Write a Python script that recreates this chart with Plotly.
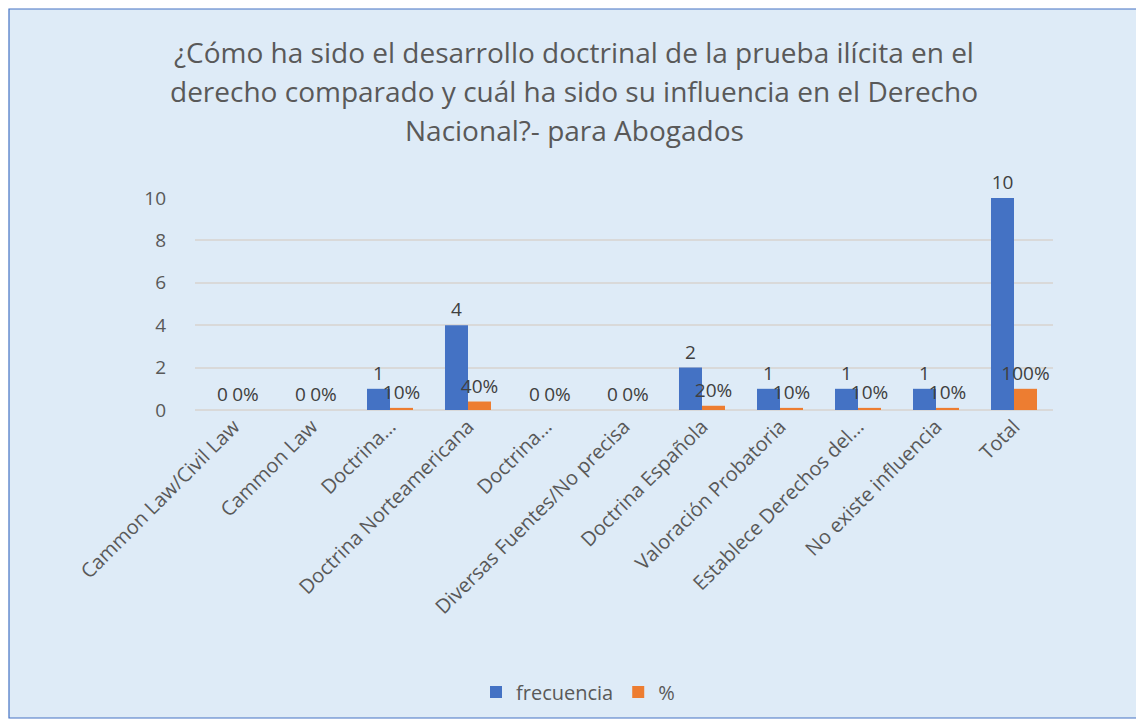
import plotly.graph_objects as go

categories = ["Cammon Law/Civil Law", "Cammon Law", "Doctrina…", "Doctrina Norteamericana",
              "Doctrina…", "Diversas Fuentes/No precisa", "Doctrina Española",
              "Valoración Probatoria", "Establece Derechos del…", "No existe influencia", "Total"]
frecuencia = [0, 0, 1, 4, 0, 0, 2, 1, 1, 1, 10]
porcentaje = [0.0, 0.0, 0.1, 0.4, 0.0, 0.0, 0.2, 0.1, 0.1, 0.1, 1.0]
title_lines = ["¿Cómo ha sido el desarrollo doctrinal de la prueba ilícita en el",
               "derecho comparado y cuál ha sido su influencia en el Derecho",
               "Nacional?- para Abogados"]

W, H = 1144, 724
OFF = 8  # page body margin
# target plot area in screenshot pixels
PL, PR, PT, PB = 195, 1053, 198, 410
ml, mt = PL - OFF, PT - OFF
mr = W - (PR - OFF)
mb = H - (PB - OFF)
pw, ph = PR - PL, PB - PT

FONT = "Open Sans"
TXT = "#595959"
BLUE = "#4472C4"
ORANGE = "#ED7D31"

x = list(range(len(categories)))

fig = go.Figure()
fig.add_trace(go.Bar(
    x=x, y=frecuencia, name="frecuencia", marker=dict(color=BLUE, line=dict(width=0)),
    text=[str(v) for v in frecuencia], textposition="outside", cliponaxis=False,
    constraintext="none",
    textfont=dict(family=FONT, size=19, color="#404040"),
))
fig.add_trace(go.Bar(
    x=x, y=porcentaje, name="%", marker=dict(color=ORANGE, line=dict(width=0)),
    text=[f"{round(v*100)}%" for v in porcentaje], textposition="outside", cliponaxis=False,
    constraintext="none",
    textfont=dict(family=FONT, size=19, color="#404040"),
))

def px2x(px):
    return (px - PL) / pw

def py2y(py):
    return (PB - py) / ph

shapes = [dict(type="rect", xref="paper", yref="paper",
               x0=px2x(9), x1=px2x(1140), y0=py2y(718), y1=py2y(9),
               fillcolor="#DEEBF7", line=dict(color=BLUE, width=1.2), layer="below")]

annotations = []
for i, line in enumerate(title_lines):
    annotations.append(dict(
        text=line, xref="paper", yref="paper", x=px2x(574), y=py2y(52 + 39 * i),
        xanchor="center", yanchor="middle", showarrow=False,
        font=dict(family=FONT, size=28, color=TXT)))

fig.update_layout(
    width=W, height=H,
    margin=dict(l=ml, r=mr, t=mt, b=mb, autoexpand=False),
    paper_bgcolor="white", plot_bgcolor="rgba(0,0,0,0)",
    barmode="group", bargap=0.41, bargroupgap=0,
    showlegend=True,
    legend=dict(orientation="h", x=px2x(578), xanchor="center", y=py2y(692), yanchor="middle",
                yref="paper", font=dict(family=FONT, size=20, color=TXT),
                bgcolor="rgba(0,0,0,0)", itemwidth=30),
    xaxis=dict(tickmode="array", tickvals=x, ticktext=categories, tickangle=-45,
               range=[-0.5, len(categories) - 0.5], showgrid=False, zeroline=False,
               showline=False, ticks="", tickfont=dict(family=FONT, size=20, color=TXT)),
    yaxis=dict(range=[0, 10], dtick=2, tick0=0, showgrid=True, gridcolor="#D9D9D9",
               gridwidth=1.5, zeroline=True, zerolinecolor="#D9D9D9", zerolinewidth=1.5,
               showline=False, ticks="", ticklabelstandoff=28,
               tickfont=dict(family=FONT, size=19, color=TXT)),
    shapes=shapes, annotations=annotations,
)

fig.write_html("out.html")
